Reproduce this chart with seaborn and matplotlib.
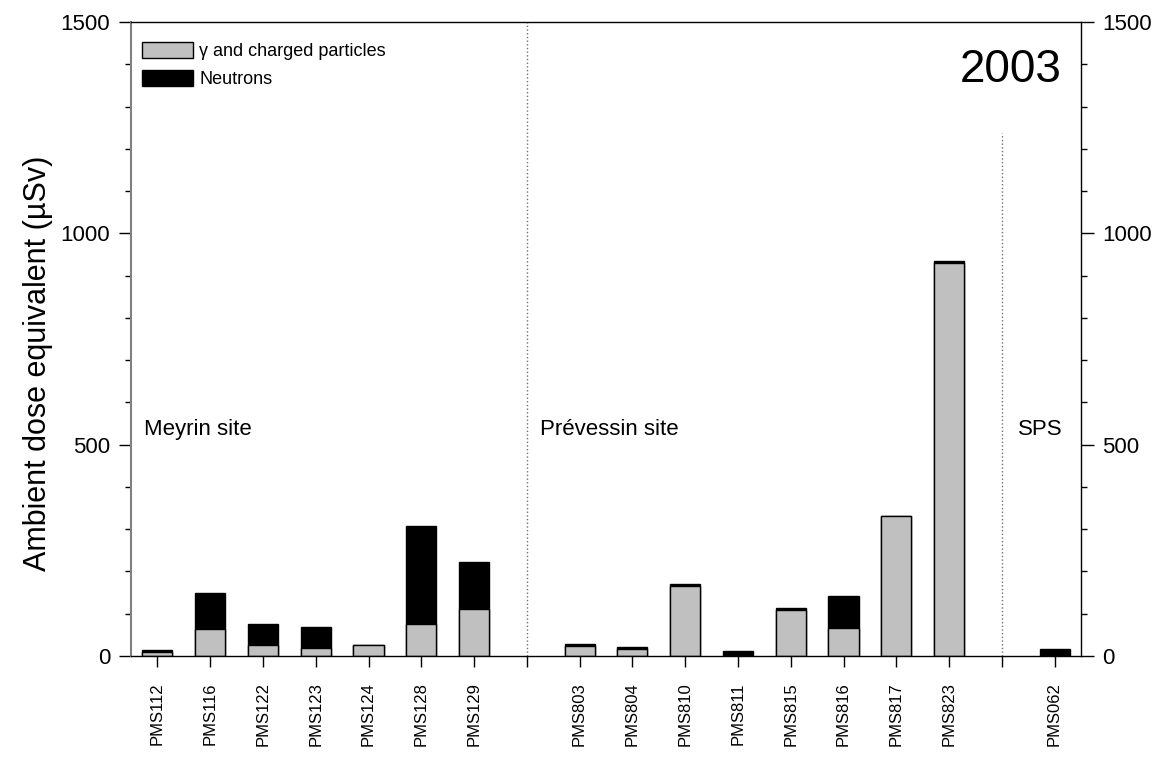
import matplotlib
matplotlib.use("Agg")
import matplotlib.pyplot as plt
import seaborn as sns
import pandas as pd
from matplotlib.patches import Patch
from matplotlib.ticker import MultipleLocator

# ---------------- data ----------------
stations = ["PMS112", "PMS116", "PMS122", "PMS123", "PMS124", "PMS128", "PMS129",
            "PMS803", "PMS804", "PMS810", "PMS811", "PMS815", "PMS816", "PMS817", "PMS823",
            "PMS062"]
gamma = [9, 63, 27, 20, 27, 76, 111,
         24, 16, 165, 0, 108, 67, 332, 930,
         0]
neutrons = [5, 85, 49, 49, 0, 231, 112,
            5, 6, 6, 12, 5, 75, 0, 5,
            16]
# category order with empty slots separating the sites
order = ["PMS112", "PMS116", "PMS122", "PMS123", "PMS124", "PMS128", "PMS129", " ",
         "PMS803", "PMS804", "PMS810", "PMS811", "PMS815", "PMS816", "PMS817", "PMS823", "  ",
         "PMS062"]
site_names = ["Meyrin site", "Prévessin site", "SPS"]
year_label = "2003"
legend_labels = ["γ and charged particles", "Neutrons"]

df = pd.DataFrame({"station": stations, "gamma": gamma, "neutrons": neutrons})
df["total"] = df["gamma"] + df["neutrons"]

# ---------------- style ----------------
sns.set_style("white")
plt.rcParams["font.family"] = ["Liberation Sans", "DejaVu Sans"]
plt.rcParams["text.color"] = "black"
plt.rcParams["axes.labelcolor"] = "black"
plt.rcParams["xtick.color"] = "black"
plt.rcParams["ytick.color"] = "black"

fig = plt.figure(figsize=(11.57, 7.58), dpi=100)
ax = fig.add_axes([131 / 1157, 1 - 656 / 758, 950 / 1157, 634 / 758])

gray = "#c0c0c0"
sns.barplot(data=df, x="station", y="total", order=order, color="black",
            width=0.57, edgecolor="black", linewidth=1, saturation=1, ax=ax, errorbar=None)
sns.barplot(data=df, x="station", y="gamma", order=order, color=gray,
            width=0.57, edgecolor="black", linewidth=1, saturation=1, ax=ax, errorbar=None)

ax.set_xlim(-0.5, len(order) - 0.5)
ax.set_ylim(0, 1500)
ax.yaxis.set_major_locator(MultipleLocator(500))
ax.yaxis.set_minor_locator(MultipleLocator(100))
ax.set_xticks(range(len(order)))
ax.set_xticklabels(order, rotation=90, fontsize=12)
ax.set_xlabel("")
ax.set_ylabel("Ambient dose equivalent (µSv)", fontsize=22)
ax.yaxis.set_label_coords(-0.082, 0.462)

ax.tick_params(axis="y", which="major", direction="out", length=9, width=1,
               labelsize=16, left=True, right=True, labelleft=True, labelright=True, pad=6)
ax.tick_params(axis="y", which="minor", direction="out", length=4.5, width=1,
               left=True, right=True)
ax.tick_params(axis="x", which="major", direction="out", length=8, width=1,
               bottom=True, pad=11)

for side in ["top", "right", "bottom"]:
    ax.spines[side].set_color("black")
    ax.spines[side].set_linewidth(1)
ax.spines["left"].set_color("#808080")
ax.spines["left"].set_linewidth(1.5)

# separators between sites
ax.vlines(7, 0, 1500, colors="#707070", linestyles=":", linewidth=1)
ax.vlines(16, 0, 1237, colors="#707070", linestyles=":", linewidth=1)

# site labels
ax.text(-0.25, 535, site_names[0], fontsize=16, va="center", ha="left")
ax.text(7.25, 535, site_names[1], fontsize=16, va="center", ha="left")
ax.text(16.3, 535, site_names[2], fontsize=16, va="center", ha="left")
ax.text(0.98, 0.925, year_label, transform=ax.transAxes, fontsize=33,
        ha="right", va="center")

handles = [Patch(facecolor=gray, edgecolor="black", linewidth=1),
           Patch(facecolor="black", edgecolor="black", linewidth=1)]
ax.legend(handles, legend_labels, loc="upper left", bbox_to_anchor=(0.012, 0.968),
          frameon=False, fontsize=13, handlelength=2.8, handleheight=0.95,
          handletextpad=0.35, labelspacing=0.55, borderpad=0, borderaxespad=0)

fig.savefig("out.png", dpi=100)
